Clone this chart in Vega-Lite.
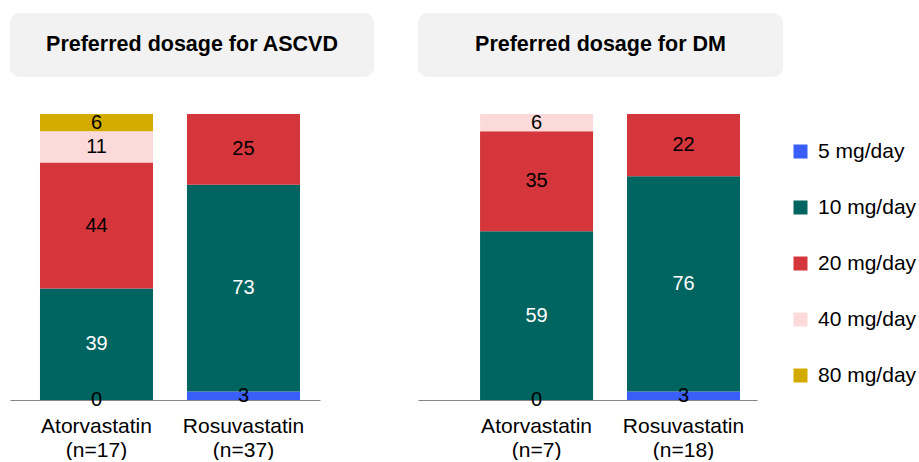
{
  "$schema": "https://vega.github.io/schema/vega-lite/v6.json",
  "padding": {"left": 10, "top": 13, "right": 0, "bottom": 0},
  "background": "white",
  "config": {
    "font": "Liberation Sans",
    "view": {"stroke": null}
  },
  "datasets": {
    "dosage": [
      {"panel": "ASCVD", "drug": "Atorvastatin (n=17)", "dose": "5 mg/day", "mg": 5, "pct": 0},
      {"panel": "ASCVD", "drug": "Atorvastatin (n=17)", "dose": "10 mg/day", "mg": 10, "pct": 39},
      {"panel": "ASCVD", "drug": "Atorvastatin (n=17)", "dose": "20 mg/day", "mg": 20, "pct": 44},
      {"panel": "ASCVD", "drug": "Atorvastatin (n=17)", "dose": "40 mg/day", "mg": 40, "pct": 11},
      {"panel": "ASCVD", "drug": "Atorvastatin (n=17)", "dose": "80 mg/day", "mg": 80, "pct": 6},
      {"panel": "ASCVD", "drug": "Rosuvastatin (n=37)", "dose": "5 mg/day", "mg": 5, "pct": 3},
      {"panel": "ASCVD", "drug": "Rosuvastatin (n=37)", "dose": "10 mg/day", "mg": 10, "pct": 73},
      {"panel": "ASCVD", "drug": "Rosuvastatin (n=37)", "dose": "20 mg/day", "mg": 20, "pct": 25},
      {"panel": "DM", "drug": "Atorvastatin (n=7)", "dose": "5 mg/day", "mg": 5, "pct": 0},
      {"panel": "DM", "drug": "Atorvastatin (n=7)", "dose": "10 mg/day", "mg": 10, "pct": 59},
      {"panel": "DM", "drug": "Atorvastatin (n=7)", "dose": "20 mg/day", "mg": 20, "pct": 35},
      {"panel": "DM", "drug": "Atorvastatin (n=7)", "dose": "40 mg/day", "mg": 40, "pct": 6},
      {"panel": "DM", "drug": "Rosuvastatin (n=18)", "dose": "5 mg/day", "mg": 5, "pct": 3},
      {"panel": "DM", "drug": "Rosuvastatin (n=18)", "dose": "10 mg/day", "mg": 10, "pct": 76},
      {"panel": "DM", "drug": "Rosuvastatin (n=18)", "dose": "20 mg/day", "mg": 20, "pct": 22}
    ]
  },
  "spacing": 44,
  "hconcat": [
    {
      "spacing": 35,
      "vconcat": [
        {
          "width": 364,
          "height": 64,
          "view": {"fill": "#f2f2f2", "cornerRadius": 10, "stroke": null},
          "data": {"values": [{"t": "Preferred dosage for ASCVD"}]},
          "mark": {"type": "text", "fontSize": 21.5, "fontWeight": "bold", "color": "black", "baseline": "middle", "align": "center"},
          "encoding": {"text": {"field": "t"}}
        },
        {
          "width": 310,
          "height": 286,
          "data": {"name": "dosage"},
          "transform": [{"filter": "datum.panel == 'ASCVD'"}],
          "encoding": {
            "x": {
              "field": "drug", "type": "nominal", "title": null,
              "scale": {"paddingInner": 0.231, "paddingOuter": 0.17, "align": 0.6},
              "axis": {"labelAngle": 0, "labelFontSize": 21, "labelColor": "black", "ticks": false, "domainColor": "#888888", "labelPadding": 15, "labelLineHeight": 24, "labelExpr": "split(datum.label, ' ')"}
            },
            "y": {"field": "pct", "type": "quantitative", "stack": "normalize", "axis": null, "scale": {"domain": [0, 1]}},
            "order": {"field": "mg", "type": "quantitative"}
          },
          "layer": [
            {
              "mark": {"type": "bar"},
              "encoding": {
                "color": {
                  "field": "dose", "type": "nominal",
                  "scale": {"domain": ["5 mg/day", "10 mg/day", "20 mg/day", "40 mg/day", "80 mg/day"], "range": ["#3a5ef8", "#006460", "#d4363c", "#fddada", "#d4ab00"]},
                  "legend": {
                    "title": null, "orient": "none", "legendX": 780, "legendY": 128,
                    "symbolType": "square", "symbolSize": 196, "symbolStrokeWidth": 0,
                    "labelFontSize": 21, "labelColor": "black", "rowPadding": 34, "labelOffset": 7, "padding": 0, "labelLimit": 200
                  }
                }
              }
            },
            {
              "mark": {"type": "text", "fontSize": 20, "baseline": "middle"},
              "encoding": {
                "y": {"field": "pct", "type": "quantitative", "stack": "normalize", "bandPosition": 0.5},
                "text": {"field": "pct", "type": "quantitative"},
                "color": {"condition": {"test": "datum.dose == '10 mg/day'", "value": "white"}, "value": "black"}
              }
            }
          ]
        }
      ]
    },
    {
      "spacing": 35,
      "vconcat": [
        {
          "width": 365,
          "height": 64,
          "view": {"fill": "#f2f2f2", "cornerRadius": 10, "stroke": null},
          "data": {"values": [{"t": "Preferred dosage for DM"}]},
          "mark": {"type": "text", "fontSize": 21.5, "fontWeight": "bold", "color": "black", "baseline": "middle", "align": "center"},
          "encoding": {"text": {"field": "t"}}
        },
        {
          "width": 339,
          "height": 286,
          "data": {"name": "dosage"},
          "transform": [{"filter": "datum.panel == 'DM'"}],
          "encoding": {
            "x": {
              "field": "drug", "type": "nominal", "title": null,
              "scale": {"paddingInner": 0.231, "paddingOuter": 0.269, "align": 0.785},
              "axis": {"labelAngle": 0, "labelFontSize": 21, "labelColor": "black", "ticks": false, "domainColor": "#888888", "labelPadding": 15, "labelLineHeight": 24, "labelExpr": "split(datum.label, ' ')"}
            },
            "y": {"field": "pct", "type": "quantitative", "stack": "normalize", "axis": null, "scale": {"domain": [0, 1]}},
            "order": {"field": "mg", "type": "quantitative"}
          },
          "layer": [
            {
              "mark": {"type": "bar"},
              "encoding": {
                "color": {"field": "dose", "type": "nominal"}
              }
            },
            {
              "mark": {"type": "text", "fontSize": 20, "baseline": "middle"},
              "encoding": {
                "y": {"field": "pct", "type": "quantitative", "stack": "normalize", "bandPosition": 0.5},
                "text": {"field": "pct", "type": "quantitative"},
                "color": {"condition": {"test": "datum.dose == '10 mg/day'", "value": "white"}, "value": "black"}
              }
            }
          ]
        }
      ]
    }
  ]
}
